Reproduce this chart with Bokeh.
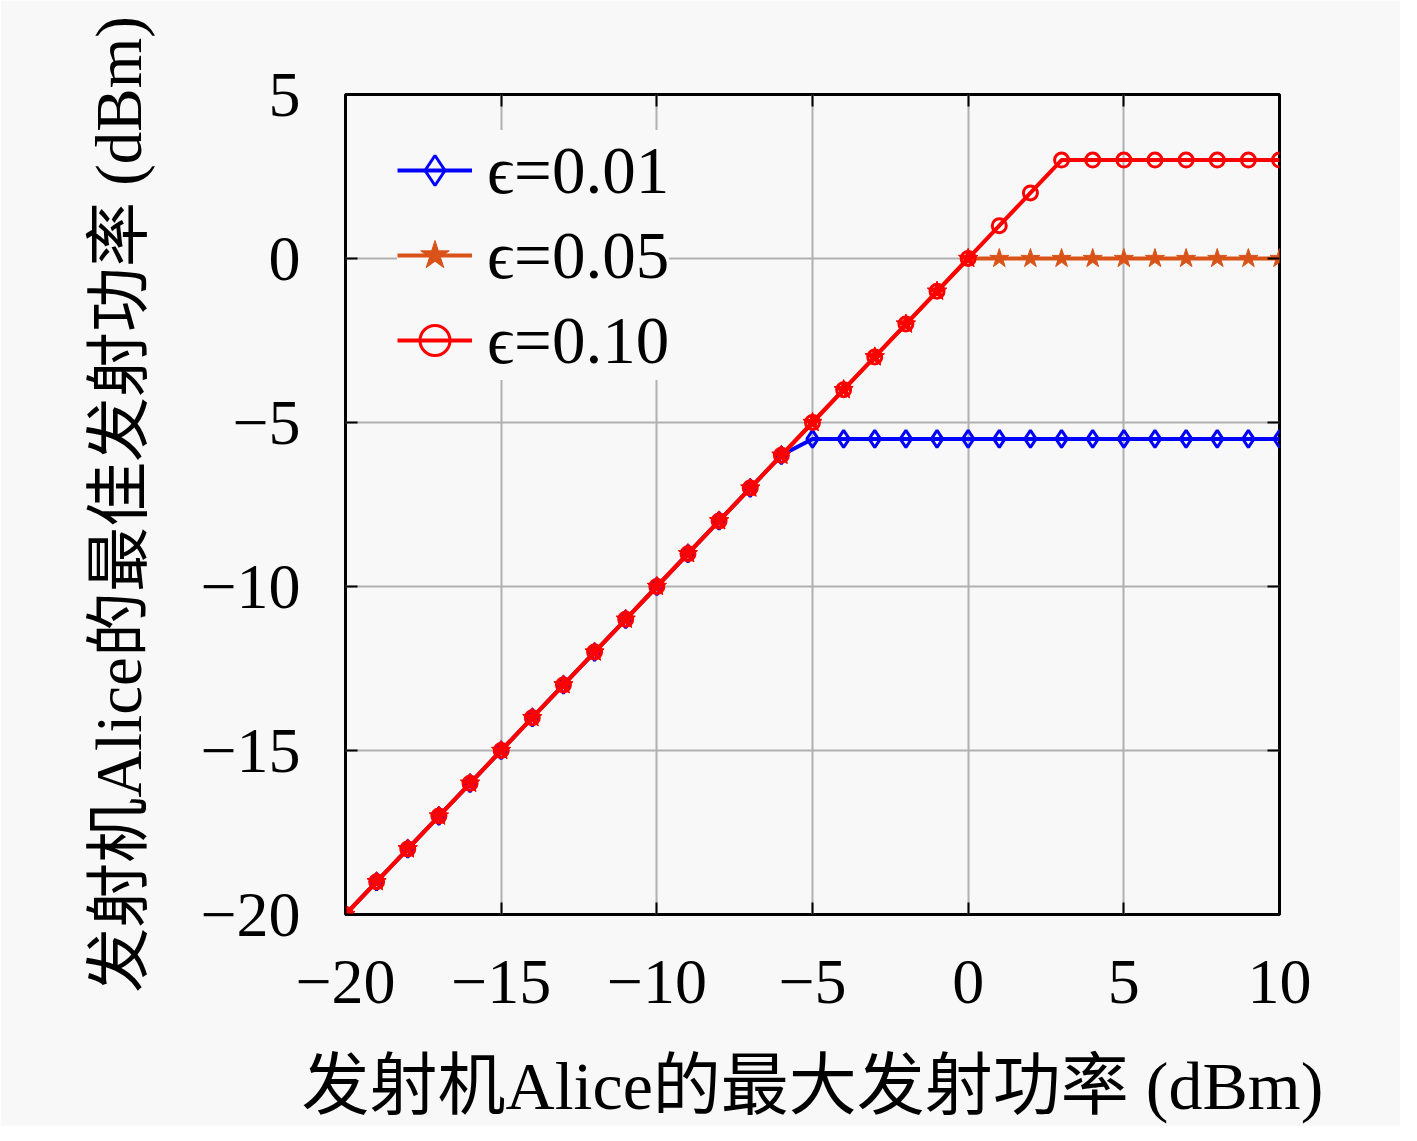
from bokeh.plotting import figure
from bokeh.models import LinearAxis, Range1d, FixedTicker, Legend, LegendItem
from bokeh.embed import file_html
from bokeh.resources import INLINE

# ---- data ----
x_vals = [-20, -19, -18, -17, -16, -15, -14, -13, -12, -11, -10, -9, -8, -7, -6, -5,
          -4, -3, -2, -1, 0, 1, 2, 3, 4, 5, 6, 7, 8, 9, 10]
y_eps001 = [-20, -19, -18, -17, -16, -15, -14, -13, -12, -11, -10, -9, -8, -7, -6, -5.5,
            -5.5, -5.5, -5.5, -5.5, -5.5, -5.5, -5.5, -5.5, -5.5, -5.5, -5.5, -5.5, -5.5, -5.5, -5.5]
y_eps005 = [-20, -19, -18, -17, -16, -15, -14, -13, -12, -11, -10, -9, -8, -7, -6, -5,
            -4, -3, -2, -1, 0, 0, 0, 0, 0, 0, 0, 0, 0, 0, 0]
y_eps010 = [-20, -19, -18, -17, -16, -15, -14, -13, -12, -11, -10, -9, -8, -7, -6, -5,
            -4, -3, -2, -1, 0, 1, 2, 3, 3, 3, 3, 3, 3, 3, 3]
series_labels = ["ϵ=0.01", "ϵ=0.05", "ϵ=0.10"]
x_ticks = [-20, -15, -10, -5, 0, 5, 10]
x_tick_labels = ["−20", "−15", "−10", "−5", "0", "5", "10"]
y_ticks = [-20, -15, -10, -5, 0, 5]
y_tick_labels = ["−20", "−15", "−10", "−5", "0", "5"]
x_title = "发射机Alice的最大发射功率 (dBm)"
y_title = "发射机Alice的最佳发射功率 (dBm)"

FONT = "'Liberation Serif', 'DejaVu Serif', 'Noto Sans CJK SC', serif"
BG = "#f8f8f8"

p = figure(width=1400, height=1125, frame_width=934, frame_height=820,
           output_backend="svg", toolbar_location=None,
           x_range=Range1d(-20, 10), y_range=Range1d(-20, 5),
           min_border_left=345, min_border_right=121, min_border_top=94, min_border_bottom=211)
p.background_fill_color = BG
p.border_fill_color = BG
p.outline_line_color = "black"
p.outline_line_width = 3

for ax in [p.xaxis[0], p.yaxis[0]]:
    ax.major_tick_in = 12
    ax.major_tick_out = 0
    ax.minor_tick_in = 0
    ax.minor_tick_out = 0
    ax.major_tick_line_width = 2
    ax.axis_line_color = None
    ax.major_label_text_font = FONT
    ax.major_label_text_font_size = "64px"
    ax.major_label_text_color = "black"
    ax.axis_label_text_font = FONT
    ax.axis_label_text_font_style = "normal"
    ax.axis_label_text_color = "black"

p.xaxis[0].ticker = FixedTicker(ticks=x_ticks)
p.xaxis[0].major_label_overrides = dict(zip(x_ticks, x_tick_labels))
p.xaxis[0].major_label_standoff = 46
p.xaxis[0].axis_label = x_title
p.xaxis[0].axis_label_text_font_size = "68px"
p.xaxis[0].axis_label_standoff = 42

p.yaxis[0].ticker = FixedTicker(ticks=y_ticks)
p.yaxis[0].major_label_overrides = dict(zip(y_ticks, y_tick_labels))
p.yaxis[0].major_label_standoff = 45
p.yaxis[0].axis_label = y_title
p.yaxis[0].axis_label_text_font_size = "65px"
p.yaxis[0].axis_label_standoff = 42

for loc, tk in [("above", x_ticks), ("right", y_ticks)]:
    a = LinearAxis(ticker=FixedTicker(ticks=tk))
    a.major_tick_in = 12
    a.major_tick_out = 0
    a.minor_tick_in = 0
    a.minor_tick_out = 0
    a.major_tick_line_width = 2
    a.axis_line_color = None
    a.major_label_overrides = {t: "" for t in tk}
    a.major_label_standoff = 0
    p.add_layout(a, loc)

p.xgrid.ticker = FixedTicker(ticks=x_ticks)
p.ygrid.ticker = FixedTicker(ticks=y_ticks)
p.grid.grid_line_color = "#b0b0b0"
p.grid.grid_line_width = 2

blue = "#0000ff"
orange = "#d95319"
red = "#ff0000"

l1 = p.line(x_vals, y_eps001, line_color=blue, line_width=4)
m1 = p.scatter(x_vals, y_eps001, marker="diamond", size=17, line_color=blue, line_width=3, fill_color=None)
l2 = p.line(x_vals, y_eps005, line_color=orange, line_width=4)
m2 = p.scatter(x_vals, y_eps005, marker="star", size=20, line_color=orange, line_width=1, fill_color=orange)
# where the 0.05 and 0.10 curves coincide the markers merge into red blobs
ov_x = [x for x, a, b in zip(x_vals, y_eps005, y_eps010) if a == b]
ov_y = [a for a, b in zip(y_eps005, y_eps010) if a == b]
p.scatter(ov_x, ov_y, marker="star", size=20, line_color=red, line_width=1, fill_color=red)
l3 = p.line(x_vals, y_eps010, line_color=red, line_width=4)
m3 = p.scatter(x_vals, y_eps010, marker="circle", size=14, line_color=red, line_width=3, fill_color=None)

legend = Legend(items=[
    LegendItem(label=series_labels[0], renderers=[l1, m1]),
    LegendItem(label=series_labels[1], renderers=[l2, m2]),
    LegendItem(label=series_labels[2], renderers=[l3, m3]),
], location=(52, 534))
legend.background_fill_color = BG
legend.background_fill_alpha = 1
legend.border_line_color = None
legend.label_text_font = FONT
legend.label_text_font_size = "67px"
legend.label_text_color = "black"
legend.glyph_width = 75
legend.glyph_height = 80
legend.label_height = 80
legend.spacing = 5
legend.padding = 0
legend.margin = 0
legend.label_standoff = 15
p.add_layout(legend, "center")

open("out.html", "w").write(file_html(p, INLINE))
